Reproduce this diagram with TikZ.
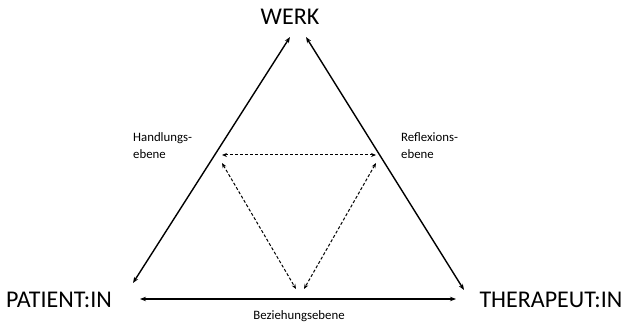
\documentclass[tikz,border=0pt]{standalone}
\usepackage{fontspec}
\setmainfont{Carlito}
\usetikzlibrary{arrows.meta}
\begin{document}
\begin{tikzpicture}[x=1pt,y=-1pt,
  solidarrow/.style={line width=1.4pt,{Stealth[length=6pt,width=4.5pt]}-{Stealth[length=6pt,width=4.5pt]}},
  dasharrow/.style={line width=1pt,dash pattern=on 3pt off 2pt,{Stealth[length=5pt,width=4pt]}-{Stealth[length=5pt,width=4pt]}},
  big/.style={font=\fontsize{24}{26}\selectfont,inner sep=0pt},
  small/.style={font=\fontsize{12.8}{17}\selectfont,inner sep=0pt,align=left}]
\useasboundingbox (0,0) rectangle (622,326);
\node[big] (werk) at (290,17) {WERK};
\node[big] (pat) at (59,300) {PATIENT:IN};
\node[big] (ther) at (551,300) {THERAPEUT:IN};
\coordinate (wl) at (290,37);
\coordinate (wr) at (306,37);
\coordinate (pa) at (133,283);
\coordinate (th) at (464,290);
\coordinate (pb) at (140,299);
\coordinate (tb) at (456,299);
\draw[solidarrow] (pa) -- (wl);
\draw[solidarrow] (wr) -- (th);
\draw[solidarrow] (pb) -- (tb);
\coordinate (hl) at (222,155);
\coordinate (hr) at (376,155);
\coordinate (dl) at (222,163);
\coordinate (dlb) at (296,289);
\coordinate (dr) at (376,163);
\coordinate (drb) at (304,289);
\draw[dasharrow] (hl) -- (hr);
\draw[dasharrow] (dl) -- (dlb);
\draw[dasharrow] (dr) -- (drb);
\node[small,anchor=west] (hand) at (133,146) {Handlungs-\\ebene};
\node[small,anchor=west] (refl) at (401,146) {Reflexions-\\ebene};
\node[small] (bez) at (299,316) {Beziehungsebene};
\end{tikzpicture}
\end{document}
